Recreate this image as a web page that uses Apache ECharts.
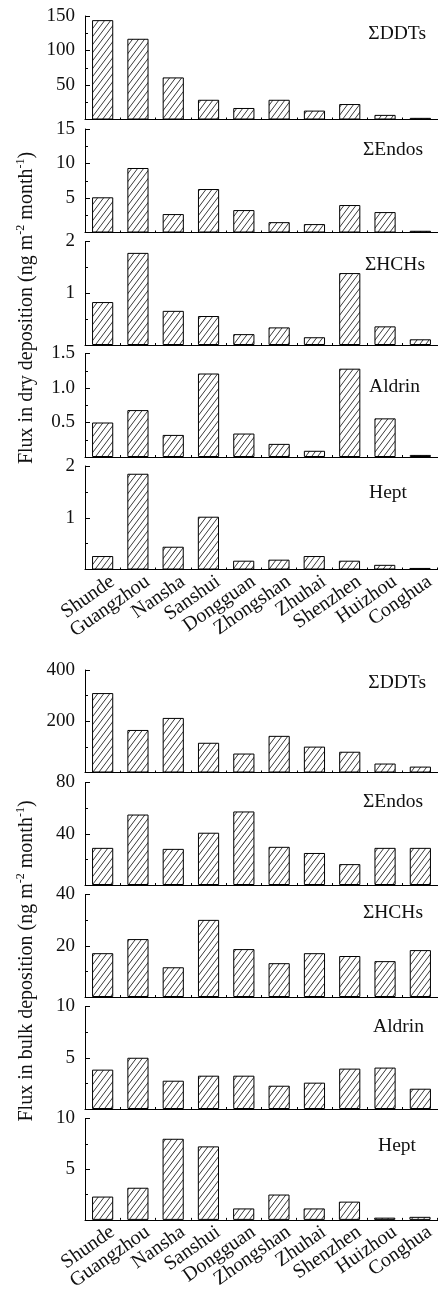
<!DOCTYPE html>
<html>
<head>
<meta charset="utf-8">
<script src="https://cdn.jsdelivr.net/npm/echarts@6/dist/echarts.min.js"></script>
<style>
html,body{margin:0;padding:0;background:#fff;}
#chart{width:438px;height:1293px;}
</style>
</head>
<body>
<div id="chart"></div>
<script>
const categories = ['Shunde','Guangzhou','Nansha','Sanshui','Dongguan','Zhongshan','Zhuhai','Shenzhen','Huizhou','Conghua'];

// Dry deposition flux (ng m-2 month-1)
const dryDDTs   = [144, 117, 61, 28.6, 16.7, 28.6, 12.9, 22.4, 6.7, 2.4];
const dryEndos  = [5.1, 9.35, 2.67, 6.3, 3.25, 1.5, 1.22, 3.98, 2.96, 0.25];
const dryHCHs   = [0.83, 1.78, 0.66, 0.56, 0.21, 0.34, 0.15, 1.39, 0.36, 0.11];
const dryAldrin = [0.5, 0.68, 0.32, 1.21, 0.34, 0.19, 0.09, 1.28, 0.56, 0.03];
const dryHept   = [0.26, 1.85, 0.44, 1.02, 0.17, 0.19, 0.26, 0.17, 0.09, 0.03];

// Bulk deposition flux (ng m-2 month-1)
const bulkDDTs   = [310, 166, 213, 116, 74, 143, 101, 81, 35, 23];
const bulkEndos  = [29, 55, 28.2, 40.8, 57.4, 29.8, 25, 16.3, 29, 29];
const bulkHCHs   = [17.1, 22.6, 11.6, 30.1, 18.7, 13.2, 17.1, 16, 14, 18.3];
const bulkAldrin = [3.84, 5.0, 2.76, 3.25, 3.25, 2.27, 2.57, 3.94, 4.04, 1.98];
const bulkHept   = [2.3, 3.17, 8.0, 7.25, 1.13, 2.5, 1.13, 1.8, 0.22, 0.3];

const panelNames = ['ΣDDTs','ΣEndos','ΣHCHs','Aldrin','Hept','ΣDDTs','ΣEndos','ΣHCHs','Aldrin','Hept'];
const panelData  = [dryDDTs, dryEndos, dryHCHs, dryAldrin, dryHept, bulkDDTs, bulkEndos, bulkHCHs, bulkAldrin, bulkHept];
const axisMax      = [150, 15, 2, 1.5, 2, 400, 80, 40, 10, 10];
const axisInterval = [50, 5, 1, 0.5, 1, 200, 40, 20, 5, 5];
const axisDecimals = [0, 0, 0, 1, 0, 0, 0, 0, 0, 0];

const FONT = '"Liberation Serif","Times New Roman",serif';

// hatch pattern
function makeHatch(){
  const c = document.createElement('canvas');
  const w = 6, h = 8;
  c.width = w; c.height = h;
  const ctx = c.getContext('2d');
  ctx.fillStyle = '#fff';
  ctx.fillRect(0,0,w,h);
  ctx.strokeStyle = '#222';
  ctx.lineWidth = 0.9;
  ctx.beginPath();
  ctx.moveTo(-w, 2*h); ctx.lineTo(2*w, -h);
  ctx.moveTo(-2*w, 2*h); ctx.lineTo(w, -h);
  ctx.moveTo(0, 2*h); ctx.lineTo(3*w, -h);
  ctx.stroke();
  return c;
}
const hatch = makeHatch();

const grids = [], xAxes = [], yAxes = [], series = [], titles = [];
const dryTops = [16, 129, 241.5, 353.5, 466];
const bulkTops = [670, 782.5, 894.5, 1006.5, 1118.5];
const labelPos = [
  [12, 24],[15, 140],[13, 255],[18, 377],[31, 483],
  [12, 673],[15, 792],[15, 903],[14, 1017],[22, 1136]
];

for (let i = 0; i < 10; i++) {
  const top = i < 5 ? dryTops[i] : bulkTops[i-5];
  const h = i < 5 ? 103.5 : 102.5;
  grids.push({left: 85, right: 0, top: top, height: h, containLabel: false});
  const showLabels = (i === 4 || i === 9);
  xAxes.push({
    type: 'category', gridIndex: i, data: categories,
    axisLine: {show: true, lineStyle: {color: '#000', width: 1}},
    axisTick: {show: true, inside: true, length: 2, lineStyle: {color: '#000'}},
    axisLabel: {show: showLabels, rotate: 35, interval: 0, margin: 5,
      verticalAlign: 'top', padding: [0, -5, 0, 0],
      fontFamily: FONT, fontSize: 20, color: '#111'},
    splitLine: {show: false}
  });
  const dec = axisDecimals[i];
  yAxes.push({
    type: 'value', gridIndex: i, min: 0, max: axisMax[i], interval: axisInterval[i],
    axisLine: {show: true, lineStyle: {color: '#000', width: 1}},
    axisTick: {show: true, inside: true, length: 5, lineStyle: {color: '#000'}},
    minorTick: {show: true, splitNumber: 2, length: 3, lineStyle: {color: '#000'}},
    splitLine: {show: false},
    axisLabel: {show: true, showMinLabel: false, margin: 10, fontFamily: FONT, fontSize: 19, color: '#111',
      formatter: v => v === 0 ? '' : v.toFixed(dec)}
  });
  series.push({
    type: 'bar', xAxisIndex: i, yAxisIndex: i, data: panelData[i],
    barCategoryGap: '40%',
    itemStyle: {color: {image: hatch, repeat: 'repeat'}, borderColor: '#000', borderWidth: 1},
    emphasis: {disabled: true},
    animation: false
  });
  titles.push({
    text: panelNames[i], right: labelPos[i][0], top: labelPos[i][1], padding: 0,
    textStyle: {fontFamily: FONT, fontSize: 19.5, fontWeight: 'normal', color: '#111'}
  });
}

const richSup = {
  sup: {fontFamily: FONT, fontSize: 12, color: '#111', verticalAlign: 'top', lineHeight: 24, padding: [0,0,9,0]}
};

const option = {
  backgroundColor: '#fff',
  animation: false,
  title: titles,
  grid: grids,
  xAxis: xAxes,
  yAxis: yAxes,
  series: series,
  graphic: [
    {type: 'text', x: 27, y: 308, rotation: Math.PI/2,
     style: {text: 'Flux in dry deposition (ng m{sup|-2} month{sup|-1})', rich: richSup,
       fontFamily: FONT, fontSize: 20, fill: '#111', align: 'center', verticalAlign: 'middle', lineHeight: 24}},
    {type: 'text', x: 27, y: 961, rotation: Math.PI/2,
     style: {text: 'Flux in bulk deposition (ng m{sup|-2} month{sup|-1})', rich: richSup,
       fontFamily: FONT, fontSize: 20, fill: '#111', align: 'center', verticalAlign: 'middle', lineHeight: 24}}
  ]
};

const chart = echarts.init(document.getElementById('chart'), null, {renderer: 'canvas'});
chart.setOption(option);
</script>
</body>
</html>
